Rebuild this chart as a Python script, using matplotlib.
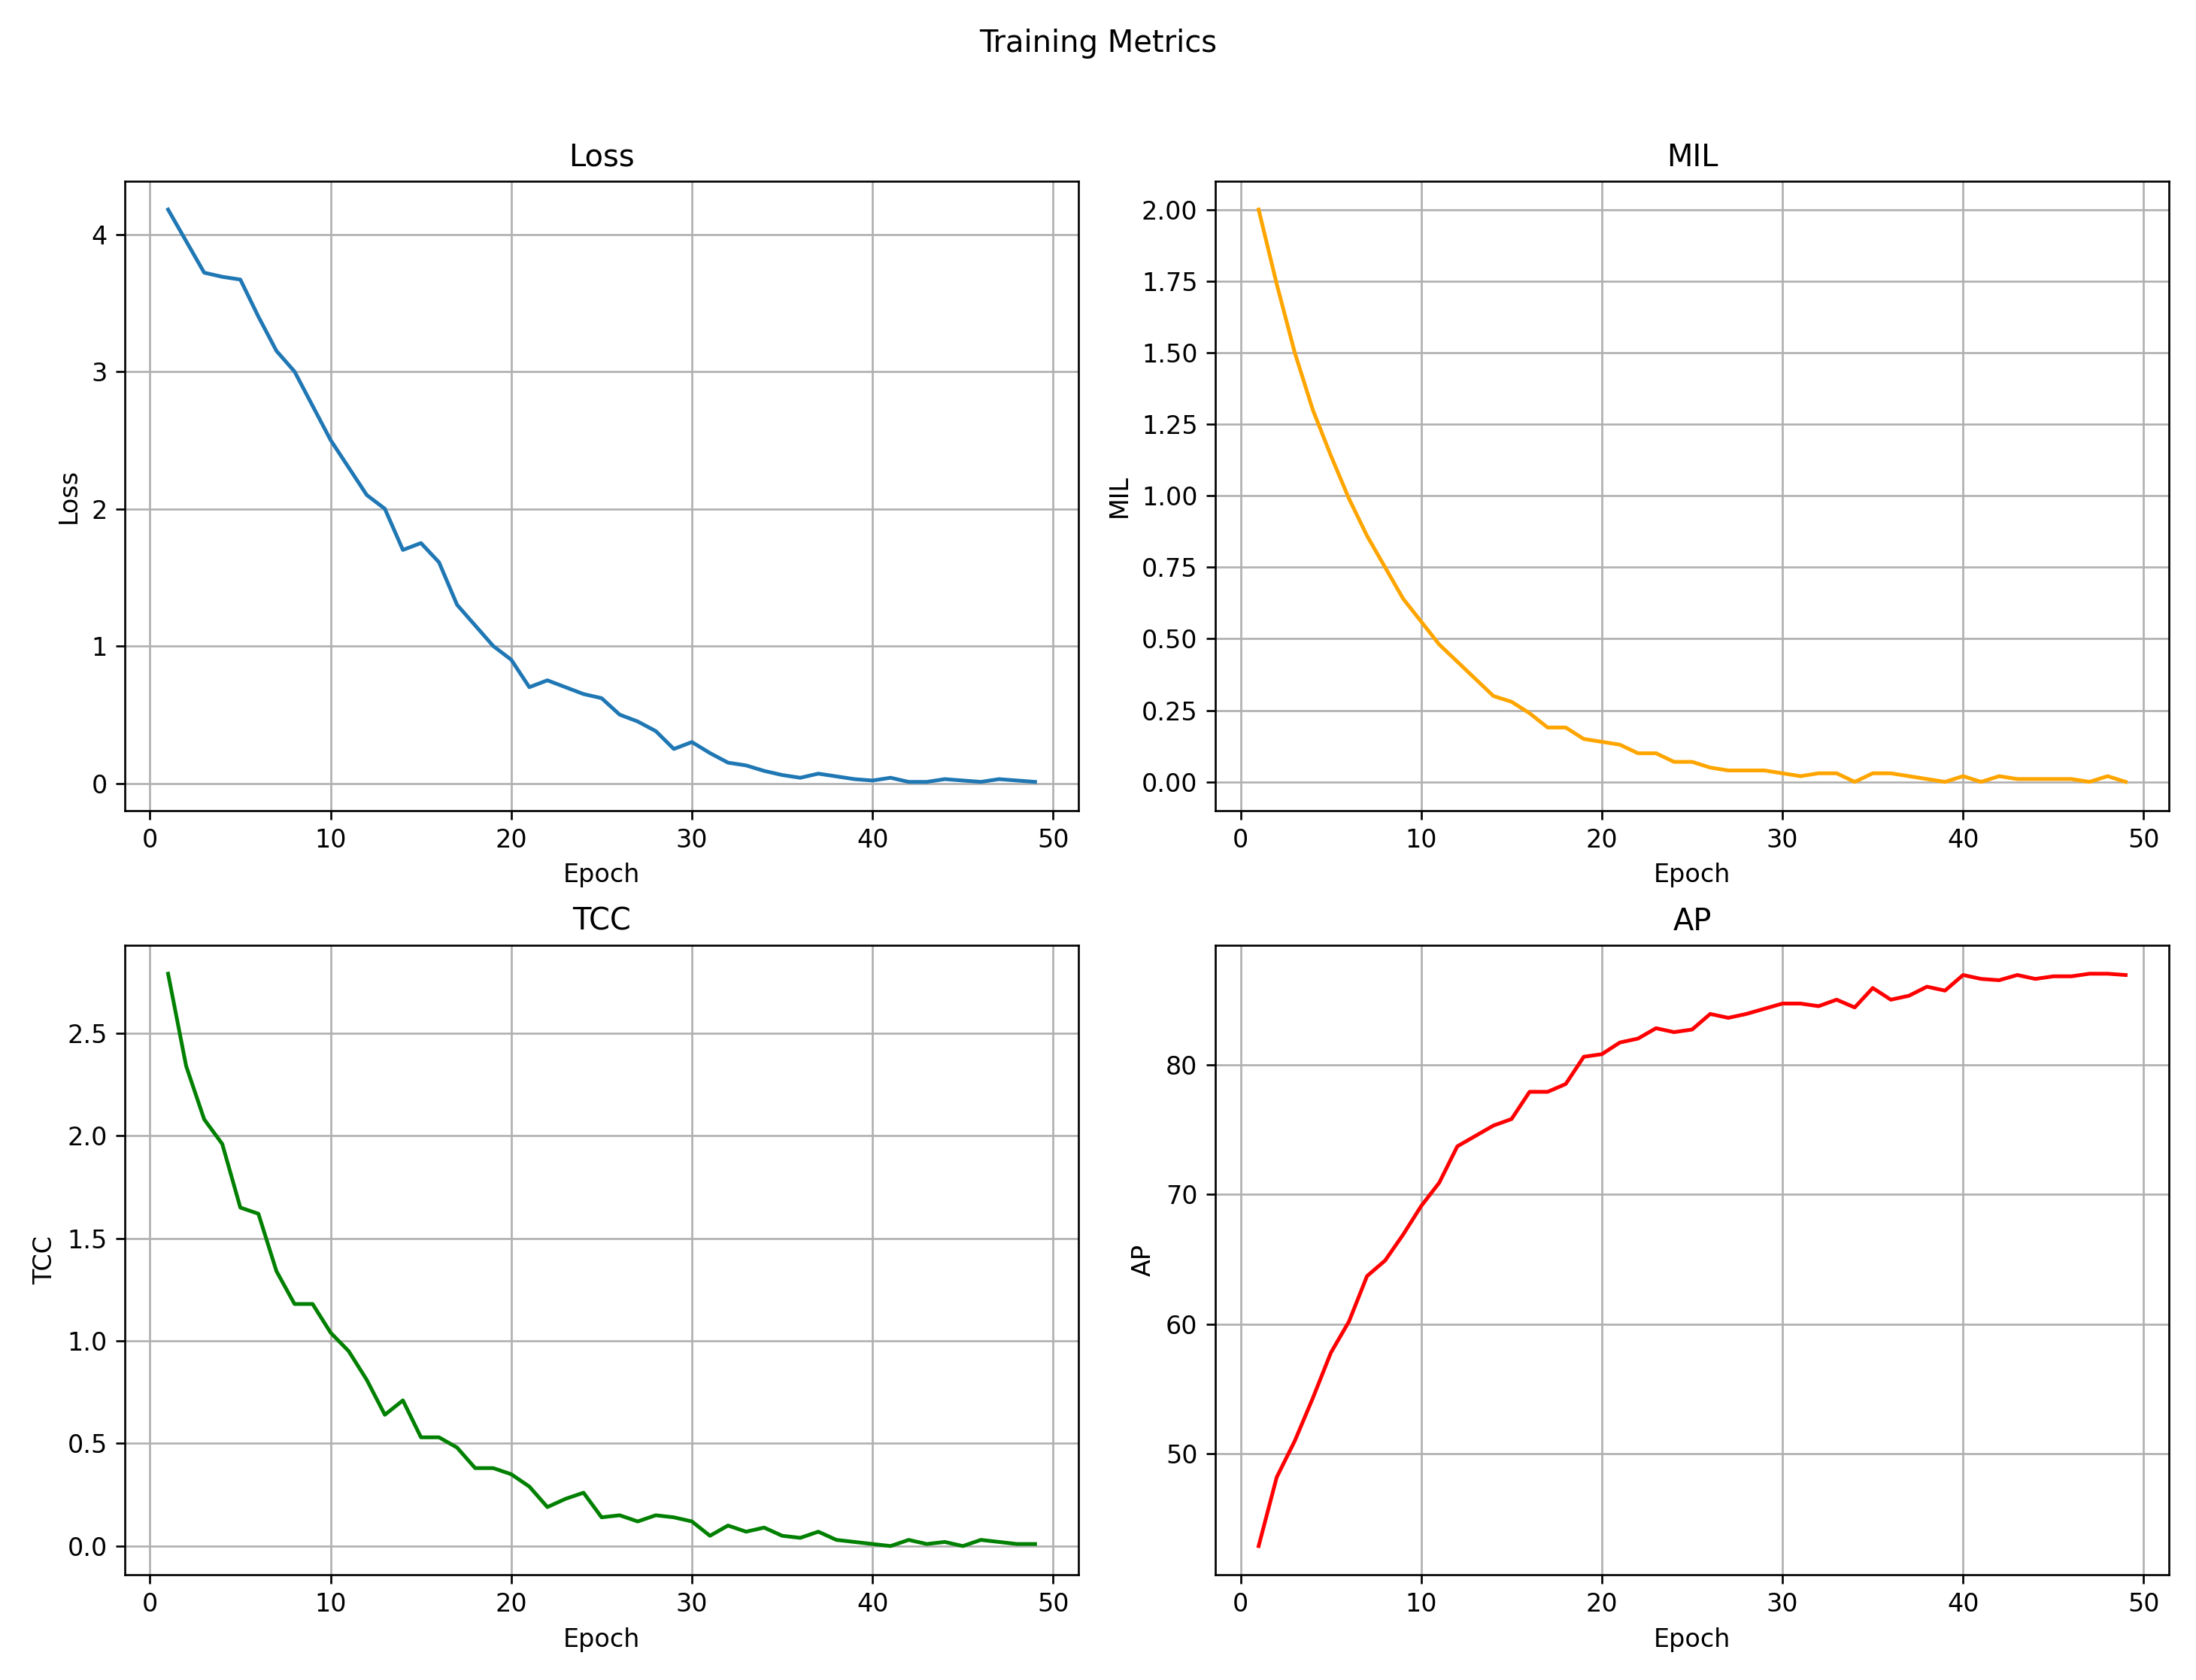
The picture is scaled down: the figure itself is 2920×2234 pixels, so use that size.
import matplotlib
matplotlib.use('Agg')
import matplotlib.pyplot as plt

epochs = list(range(1, 50))

loss = [4.18, 3.95, 3.72, 3.69, 3.67, 3.40, 3.15, 3.00, 2.75, 2.50,
        2.30, 2.10, 2.00, 1.70, 1.75, 1.61, 1.30, 1.15, 1.00, 0.90,
        0.70, 0.75, 0.70, 0.65, 0.62, 0.50, 0.45, 0.38, 0.25, 0.30,
        0.22, 0.15, 0.13, 0.09, 0.06, 0.04, 0.07, 0.05, 0.03, 0.02,
        0.04, 0.01, 0.01, 0.03, 0.02, 0.01, 0.03, 0.02, 0.01]

mil = [2.00, 1.74, 1.50, 1.30, 1.14, 0.99, 0.86, 0.75, 0.64, 0.56,
       0.48, 0.42, 0.36, 0.30, 0.28, 0.24, 0.19, 0.19, 0.15, 0.14,
       0.13, 0.10, 0.10, 0.07, 0.07, 0.05, 0.04, 0.04, 0.04, 0.03,
       0.02, 0.03, 0.03, 0.00, 0.03, 0.03, 0.02, 0.01, 0.00, 0.02,
       0.00, 0.02, 0.01, 0.01, 0.01, 0.01, 0.00, 0.02, 0.00]

tcc = [2.79, 2.34, 2.08, 1.96, 1.65, 1.62, 1.34, 1.18, 1.18, 1.04,
       0.95, 0.81, 0.64, 0.71, 0.53, 0.53, 0.48, 0.38, 0.38, 0.35,
       0.29, 0.19, 0.23, 0.26, 0.14, 0.15, 0.12, 0.15, 0.14, 0.12,
       0.05, 0.10, 0.07, 0.09, 0.05, 0.04, 0.07, 0.03, 0.02, 0.01,
       0.00, 0.03, 0.01, 0.02, 0.00, 0.03, 0.02, 0.01, 0.01]

ap = [42.9, 48.2, 51.0, 54.3, 57.8, 60.2, 63.7, 64.9, 66.9, 69.1,
      70.9, 73.7, 74.5, 75.3, 75.8, 77.9, 77.9, 78.5, 80.6, 80.8,
      81.7, 82.0, 82.8, 82.5, 82.7, 83.9, 83.6, 83.9, 84.3, 84.7,
      84.7, 84.5, 85.0, 84.4, 85.9, 85.0, 85.3, 86.0, 85.7, 86.9,
      86.6, 86.5, 86.9, 86.6, 86.8, 86.8, 87.0, 87.0, 86.9]

panels = [
    ('Loss', loss, None),
    ('MIL', mil, 'orange'),
    ('TCC', tcc, 'green'),
    ('AP', ap, 'red'),
]

# 2920 x 2234 px at 240 dpi
fig, axes = plt.subplots(2, 2, figsize=(2920 / 240, 2234 / 240))
fig.suptitle('Training Metrics', y=0.983)

for ax, (name, values, color) in zip(axes.flat, panels):
    if color is None:
        ax.plot(epochs, values)
    else:
        ax.plot(epochs, values, color=color)
    ax.set_title(name)
    ax.set_xlabel('Epoch')
    ax.set_ylabel(name)
    ax.grid(True)

plt.subplots_adjust(left=0.0568, right=0.9877, top=0.8923, bottom=0.0627,
                    wspace=0.1435, hspace=0.2138)
plt.savefig('out.png', dpi=240)
